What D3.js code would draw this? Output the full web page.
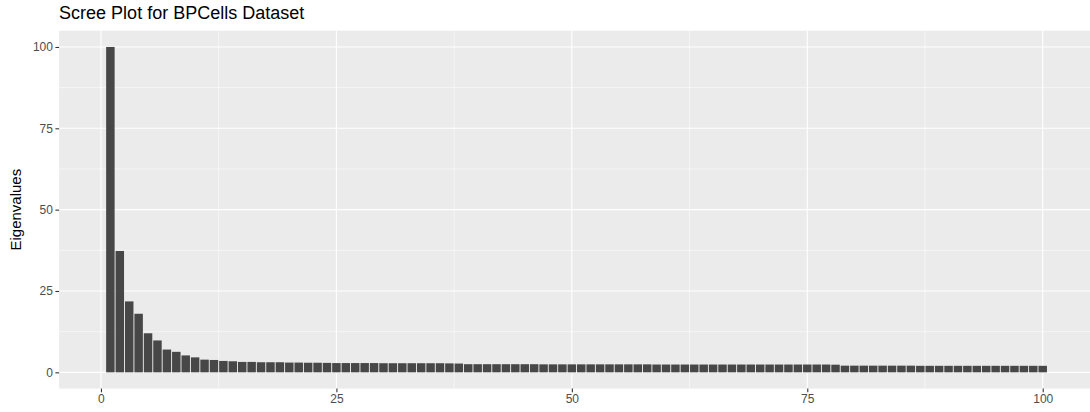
<!DOCTYPE html>
<html>
<head>
<meta charset="utf-8">
<script src="https://cdn.jsdelivr.net/npm/d3@7"></script>
<style>
  html, body { margin: 0; padding: 0; background: #fff; overflow: hidden; }
  text { font-family: "Liberation Sans", Arial, Helvetica, sans-serif; }
</style>
</head>
<body>
<svg id="chart" width="1090" height="412"></svg>
<script>
const titleText = "Scree Plot for BPCells Dataset";
const yTitle = "Eigenvalues";
const components = d3.range(1, 101);
const eigenvalues = [
  100.0, 37.3, 21.8, 18.0, 12.0, 9.8, 7.0, 6.3, 5.2, 4.6,
  3.9, 3.8, 3.5, 3.4, 3.2, 3.2, 3.1, 3.1, 3.1, 3.0,
  3.0, 2.95, 2.95, 2.9, 2.85, 2.85, 2.85, 2.85, 2.85, 2.8,
  2.8, 2.8, 2.8, 2.8, 2.8, 2.8, 2.75, 2.7, 2.5, 2.5,
  2.5, 2.5, 2.5, 2.5, 2.5, 2.5, 2.45, 2.45, 2.45, 2.45,
  2.45, 2.45, 2.45, 2.45, 2.45, 2.45, 2.45, 2.45, 2.4, 2.4,
  2.4, 2.4, 2.4, 2.4, 2.4, 2.4, 2.4, 2.4, 2.4, 2.4,
  2.4, 2.4, 2.4, 2.4, 2.4, 2.4, 2.4, 2.35, 2.05, 2.05,
  2.05, 2.05, 2.05, 2.05, 2.05, 2.05, 2.0, 2.0, 2.0, 2.0,
  2.0, 2.0, 2.0, 2.0, 2.0, 2.0, 2.0, 2.0, 2.0, 2.0
];
const xTicks = [0, 25, 50, 75, 100];
const xMinor = [12.5, 37.5, 62.5, 87.5];
const yTicks = [0, 25, 50, 75, 100];
const yMinor = [12.5, 37.5, 62.5, 87.5];

const svg = d3.select("#chart");
const panel = { left: 59.1, top: 30.7, right: 1094.0, bottom: 388.6 };

const barW = 0.9;
const xLo = 1 - barW / 2, xHi = 100 + barW / 2;
const xPad = (xHi - xLo) * 0.05;
const x = d3.scaleLinear().domain([xLo - xPad, xHi + xPad]).range([panel.left, panel.right]);
const y = d3.scaleLinear().domain([-5, 105]).range([panel.bottom, panel.top]);

// panel background
svg.append("rect")
  .attr("x", panel.left).attr("y", panel.top)
  .attr("width", panel.right - panel.left).attr("height", panel.bottom - panel.top)
  .attr("fill", "#EBEBEB");

const grid = svg.append("g");
grid.selectAll(".ymin").data(yMinor).join("line")
  .attr("x1", panel.left).attr("x2", panel.right)
  .attr("y1", d => y(d)).attr("y2", d => y(d))
  .attr("stroke", "#fff").attr("stroke-width", 0.55);
grid.selectAll(".xmin").data(xMinor).join("line")
  .attr("y1", panel.top).attr("y2", panel.bottom)
  .attr("x1", d => x(d)).attr("x2", d => x(d))
  .attr("stroke", "#fff").attr("stroke-width", 0.55);
grid.selectAll(".ymaj").data(yTicks).join("line")
  .attr("x1", panel.left).attr("x2", panel.right)
  .attr("y1", d => y(d)).attr("y2", d => y(d))
  .attr("stroke", "#fff").attr("stroke-width", 1.1);
grid.selectAll(".xmaj").data(xTicks).join("line")
  .attr("y1", panel.top).attr("y2", panel.bottom)
  .attr("x1", d => x(d)).attr("x2", d => x(d))
  .attr("stroke", "#fff").attr("stroke-width", 1.1);

// bars
svg.append("g").selectAll("rect").data(eigenvalues).join("rect")
  .attr("x", (d, i) => x(components[i] - barW / 2))
  .attr("width", (d, i) => x(components[i] + barW / 2) - x(components[i] - barW / 2))
  .attr("y", d => y(d))
  .attr("height", d => y(0) - y(d))
  .attr("fill", "#474747");

// y axis
const yAxis = d3.axisLeft(y).tickValues(yTicks).tickSize(3.7).tickPadding(2.5).tickFormat(d3.format("d"));
const gy = svg.append("g").attr("transform", `translate(${panel.left},0)`).call(yAxis);
gy.select(".domain").remove();
gy.selectAll(".tick line").attr("stroke", "#333333").attr("stroke-width", 1.1);
gy.selectAll(".tick text").attr("fill", "#4D4D4D").style("font-size", "12px");

// x axis
const xAxis = d3.axisBottom(x).tickValues(xTicks).tickSize(3.7).tickPadding(2.5).tickFormat(d3.format("d"));
const gx = svg.append("g").attr("transform", `translate(0,${panel.bottom})`).call(xAxis);
gx.select(".domain").remove();
gx.selectAll(".tick line").attr("stroke", "#333333").attr("stroke-width", 1.1);
gx.selectAll(".tick text").attr("fill", "#4D4D4D").style("font-size", "12px");

// title
svg.append("text")
  .attr("x", panel.left).attr("y", 18.5)
  .attr("fill", "#000")
  .style("font-size", "18px")
  .text(titleText);

// y title
svg.append("text")
  .attr("transform", `translate(21,${(panel.top + panel.bottom) / 2}) rotate(-90)`)
  .attr("text-anchor", "middle")
  .attr("fill", "#000")
  .style("font-size", "15px")
  .text(yTitle);
</script>
</body>
</html>
